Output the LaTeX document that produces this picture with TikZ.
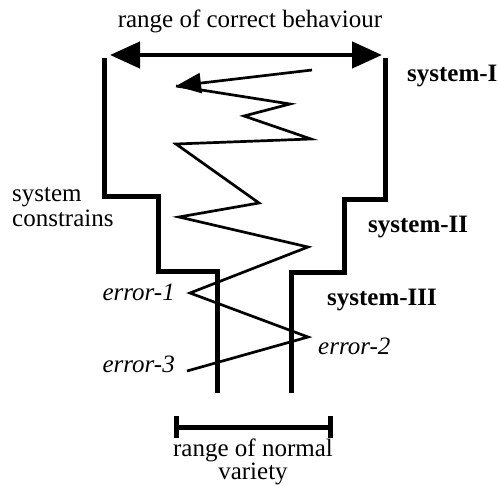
\documentclass[tikz,border=0pt]{standalone}
\usepackage{fontspec}
\setmainfont{Liberation Serif}
\usetikzlibrary{arrows.meta,positioning}

\begin{document}
\begin{tikzpicture}[x=1pt, y=-1pt, every node/.style={font=\fontsize{25}{21}\selectfont, inner sep=0pt}]
\tikzset{wall/.style={line width=5pt},
  zig/.style={line width=2.7pt},
  syslabel/.style={font=\fontsize{25}{21}\selectfont\bfseries, anchor=base west},
  errlabel/.style={font=\fontsize{25}{21}\selectfont\itshape}}
\useasboundingbox (0,0) rectangle (498,486);

% range of correct behaviour
\node[anchor=base] (behav) at (250,28) {range of correct behaviour};
\coordinate (cl) at (110,55);
\coordinate (cr) at (382,55);
\draw[line width=4.5pt, {Triangle[length=30pt,width=26pt]}-{Triangle[length=30pt,width=26pt]}] (cl) -- (cr);

% system walls
\draw[wall] (104,58) -- (104,197) -- (158,197) -- (158,272) -- (217,272) -- (217,393);
\draw[wall] (385,58) -- (385,200) -- (344,200) -- (344,273) -- (291,273) -- (291,393);

\node[syslabel] (sysI) at (407,82) {system-I};
\node[syslabel] (sysII) at (368,233) {system-II};
\node[syslabel] (sysIII) at (327,306) {system-III};
\node[anchor=base west, align=left] (constr) at (12,227) {system\\[3pt]constrains};

% behaviour path
\coordinate (z0) at (187,371);
\coordinate (z1) at (308,337);
\coordinate (z2) at (190,293);
\coordinate (z3) at (308,247);
\coordinate (z4) at (179,217);
\coordinate (z5) at (259,203);
\coordinate (z6) at (176,144);
\coordinate (z7) at (311,139);
\coordinate (z8) at (244,116);
\coordinate (z9) at (290,104);
\coordinate (z10) at (176,86);
\coordinate (start) at (312,70);
\draw[zig] (z0) -- (z1) -- (z2) -- (z3) -- (z4) -- (z5) -- (z6) -- (z7) -- (z8) -- (z9) -- (z10);
\draw[zig, -{Triangle[length=25pt,width=20pt]}] (start) -- (z10);

\node[errlabel, anchor=base east] (err1) at (175,301) {error-1};
\node[errlabel, anchor=base west] (err2) at (318,355) {error-2};
\node[errlabel, anchor=base east] (err3) at (175,372) {error-3};

% range of normal variety
\coordinate (nl) at (174,427);
\coordinate (nr) at (333,427);
\draw[line width=5pt, {Bar[width=22pt]}-{Bar[width=22pt]}] (nl) -- (nr);
\node[anchor=north, align=center] (normal) at (253,439) {range of normal\\variety};
\end{tikzpicture}
\end{document}
